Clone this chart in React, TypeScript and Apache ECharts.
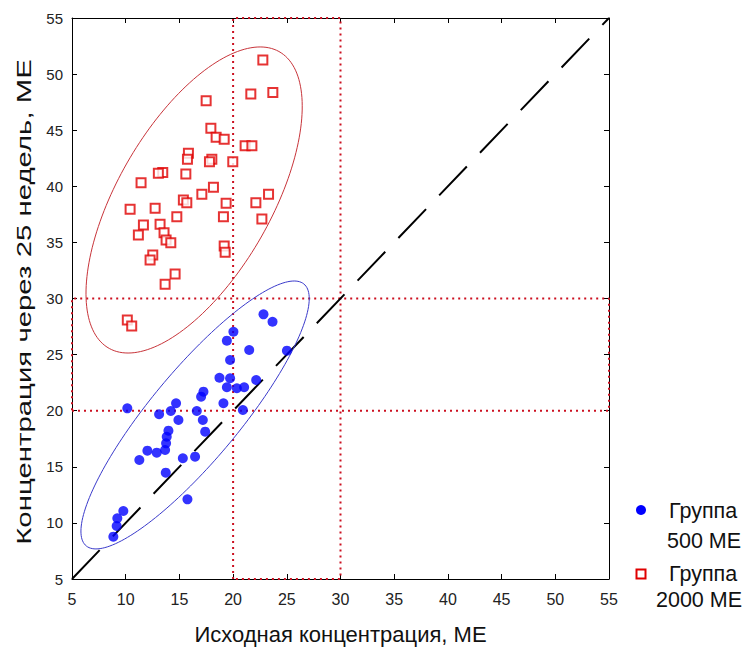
import React, { useEffect, useRef } from "react";
import * as echarts from "echarts";

const axisTicks = [5, 10, 15, 20, 25, 30, 35, 40, 45, 50, 55];
const thresholds = [20, 30];

const xTitle = "Исходная концентрация, МЕ";
const yTitle = "Концентрация через 25 недель, МЕ";
const legendLabels = [["Группа", "500 МЕ"], ["Группа", "2000 МЕ"]];

// Группа 500 МЕ: [исходная, через 25 недель]
const group500: number[][] = [
  [22.83, 28.59], [23.67, 27.93], [20.03, 27.04], [19.42, 26.24], [21.5, 25.41],
  [25.01, 25.35], [19.72, 24.52], [18.73, 22.94], [19.72, 22.89], [22.15, 22.74],
  [19.42, 22.09], [20.35, 22.0], [21.03, 22.09], [17.24, 21.7], [17.02, 21.25],
  [19.1, 20.66], [14.69, 20.66], [10.15, 20.21], [14.2, 19.97], [16.62, 19.97],
  [20.91, 20.06], [13.11, 19.68], [14.91, 19.17], [17.18, 19.17], [13.98, 18.22],
  [17.4, 18.13], [13.82, 17.68], [13.76, 17.09], [13.67, 16.5], [12.02, 16.44],
  [12.89, 16.26], [11.27, 15.61], [15.32, 15.76], [16.46, 15.9], [13.73, 14.48],
  [15.75, 12.1], [9.78, 11.06], [9.22, 10.41], [9.16, 9.72], [8.85, 8.77],
];

// Группа 2000 МЕ
const group2000: number[][] = [
  [22.77, 51.26], [21.65, 48.23], [23.7, 48.35], [17.49, 47.63], [17.93, 45.17],
  [18.42, 44.37], [19.17, 44.19], [21.12, 43.62], [21.75, 43.62], [15.84, 42.94],
  [15.75, 42.41], [18.02, 42.41], [17.8, 42.19], [19.97, 42.19], [13.45, 41.24],
  [13.04, 41.16], [15.6, 41.1], [11.43, 40.32], [18.17, 39.91], [17.09, 39.29],
  [23.3, 39.29], [15.37, 38.78], [15.69, 38.54], [19.35, 38.48], [22.12, 38.54],
  [10.41, 37.95], [12.74, 38.04], [14.76, 37.29], [19.1, 37.29], [22.68, 37.09],
  [11.65, 36.55], [13.2, 36.61], [11.18, 35.66], [13.57, 35.87], [13.76, 35.21],
  [14.2, 34.97], [19.17, 34.68], [19.26, 34.12], [12.52, 33.88], [12.27, 33.43],
  [14.6, 32.18], [13.67, 31.27], [10.15, 28.08], [10.56, 27.55],
];

// ellipses: center and two conjugate semi-diameters (data units)
const ellipse500Center = [16.46, 19.62];
const ellipse500U = [9.23, 11.94];
const ellipse500V = [5.27, 0];
const ellipse2000Center = [16.37, 38.78];
const ellipse2000U = [6.15, 13.64];
const ellipse2000V = [7.97, 0];

const identityLine = [[5, 5], [55, 55]];

const FONT = "'Liberation Sans', Arial, sans-serif";

function ellipseSeries(center: number[], u: number[], v: number[], color: string) {
  return {
    type: "custom",
    silent: true,
    clip: false,
    data: [center],
    renderItem: (_params: any, api: any) => {
      const pts: number[][] = [];
      const n = 180;
      for (let i = 0; i <= n; i++) {
        const t = (i / n) * Math.PI * 2;
        const c = Math.cos(t);
        const s = Math.sin(t);
        pts.push(api.coord([center[0] + u[0] * c + v[0] * s, center[1] + u[1] * c + v[1] * s]));
      }
      return {
        type: "polyline",
        shape: { points: pts },
        style: { stroke: color, fill: "none", lineWidth: 1 },
      };
    },
    z: 3,
  };
}

export default function App() {
  const ref = useRef<HTMLDivElement>(null);
  useEffect(() => {
    if (!ref.current) return;
    const chart = echarts.init(ref.current, null, { renderer: "svg" });
    const [t1, t2] = thresholds;
    const lo = axisTicks[0];
    const hi = axisTicks[axisTicks.length - 1];
    const baseAxis = {
      type: "value",
      min: lo,
      max: hi,
      interval: 5,
      splitLine: { show: false },
      axisLine: { show: true, onZero: false, lineStyle: { color: "#000", width: 1 } },
      axisTick: { show: true, inside: true, length: 5, lineStyle: { color: "#000" } },
    };
    const legendText = (text: string, x: number, y: number) => ({
      type: "text",
      x,
      y,
      style: { text, font: `21.5px ${FONT}`, fill: "#111", verticalAlign: "middle" },
    });
    chart.setOption({
      animation: false,
      backgroundColor: "#fff",
      grid: { left: 72, right: 139, top: 18, bottom: 71, containLabel: false },
      xAxis: [
        {
          ...baseAxis,
          position: "bottom",
          name: xTitle,
          nameLocation: "middle",
          nameGap: 44,
          nameTextStyle: { fontFamily: FONT, fontSize: 22, color: "#111" },
          axisLabel: { fontFamily: FONT, fontSize: 16, color: "#222", margin: 12 },
        },
        {
          ...baseAxis,
          position: "top",
          axisLabel: { show: false },
        },
      ],
      yAxis: [
        {
          ...baseAxis,
          position: "left",
          axisLabel: { fontFamily: FONT, fontSize: 15, color: "#222", margin: 9 },
        },
        {
          ...baseAxis,
          position: "right",
          axisLabel: { show: false },
        },
      ],
      series: [
        {
          type: "line",
          data: [[t1, lo], [t1, hi], [t2, hi], [t2, lo], [t1, lo]],
          symbol: "none",
          silent: true,
          lineStyle: { color: "#cc1020", width: 2, type: [2, 4] },
          z: 1,
        },
        {
          type: "line",
          data: [[lo, t1], [hi, t1], [hi, t2], [lo, t2], [lo, t1]],
          symbol: "none",
          silent: true,
          lineStyle: { color: "#cc1020", width: 2, type: [2, 4] },
          z: 1,
        },
        {
          type: "line",
          data: identityLine,
          symbol: "none",
          silent: true,
          lineStyle: { color: "#000", width: 2, type: [40, 19] },
          z: 2,
        },
        ellipseSeries(ellipse2000Center, ellipse2000U, ellipse2000V, "#c8343a"),
        ellipseSeries(ellipse500Center, ellipse500U, ellipse500V, "#3a3acb"),
        {
          name: "Группа 500 МЕ",
          type: "scatter",
          data: group500,
          symbol: "circle",
          symbolSize: 10,
          itemStyle: { color: "#0000ff" },
          z: 5,
        },
        {
          name: "Группа 2000 МЕ",
          type: "scatter",
          data: group2000,
          symbol: "rect",
          symbolSize: 9,
          itemStyle: { color: "#fff", borderColor: "#e00000", borderWidth: 2 },
          z: 5,
        },
      ],
      graphic: [
        {
          type: "text",
          x: 24,
          y: 302,
          rotation: Math.PI / 2,
          scaleX: 1.47,
          style: {
            text: yTitle,
            font: `20px ${FONT}`,
            fill: "#111",
            align: "center",
            verticalAlign: "middle",
          },
        },
        { type: "circle", shape: { cx: 641, cy: 510, r: 5 }, style: { fill: "#0000ff" } },
        legendText(legendLabels[0][0], 669, 511),
        legendText(legendLabels[0][1], 667, 541),
        {
          type: "rect",
          shape: { x: 636.5, y: 569.5, width: 9, height: 9 },
          style: { fill: "#fff", stroke: "#e00000", lineWidth: 2 },
        },
        legendText(legendLabels[1][0], 669, 574),
        legendText(legendLabels[1][1], 656, 600),
      ],
    });
    return () => chart.dispose();
  }, []);
  return (
    <div
      ref={ref}
      style={{ position: "absolute", left: 0, top: 0, width: 748, height: 650 }}
    />
  );
}
